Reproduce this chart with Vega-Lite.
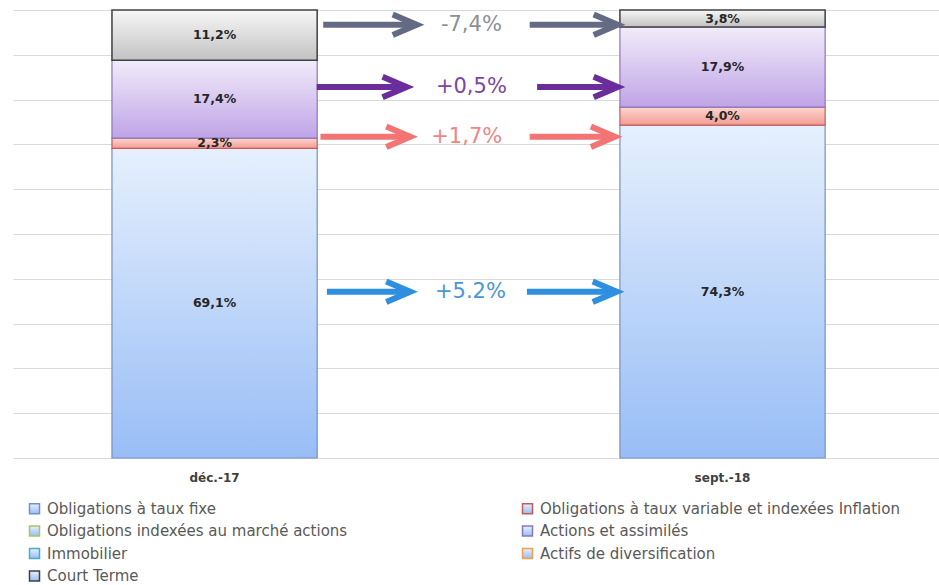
{
  "$schema": "https://vega.github.io/schema/vega-lite/v6.json",
  "width": 926,
  "height": 448,
  "autosize": {"type": "none"},
  "padding": {"left": 13, "top": 10, "right": 0, "bottom": 127},
  "background": "white",
  "config": {"view": {"stroke": null}, "font": "DejaVu Sans"},
  "datasets": {
    "alloc": [
      {"period": "déc.-17", "series": "Obligations à taux fixe", "pct": 69.1, "label": "69,1%"},
      {"period": "déc.-17", "series": "Obligations à taux variable et indexées Inflation", "pct": 2.3, "label": "2,3%"},
      {"period": "déc.-17", "series": "Actions et assimilés", "pct": 17.4, "label": "17,4%"},
      {"period": "déc.-17", "series": "Court Terme", "pct": 11.2, "label": "11,2%"},
      {"period": "sept.-18", "series": "Obligations à taux fixe", "pct": 74.3, "label": "74,3%"},
      {"period": "sept.-18", "series": "Obligations à taux variable et indexées Inflation", "pct": 4.0, "label": "4,0%"},
      {"period": "sept.-18", "series": "Actions et assimilés", "pct": 17.9, "label": "17,9%"},
      {"period": "sept.-18", "series": "Court Terme", "pct": 3.8, "label": "3,8%"}
    ],
    "arrows": [
      {"series": "Court Terme", "from": 33.5, "to": 43.6, "level": 96.7},
      {"series": "Court Terme", "from": 55.8, "to": 65.3, "level": 96.7},
      {"series": "Actions et assimilés", "from": 32.8, "to": 42.5, "level": 82.8},
      {"series": "Actions et assimilés", "from": 56.6, "to": 65.3, "level": 82.8},
      {"series": "Obligations à taux variable et indexées Inflation", "from": 33.2, "to": 42.9, "level": 71.7},
      {"series": "Obligations à taux variable et indexées Inflation", "from": 55.8, "to": 65.0, "level": 71.7},
      {"series": "Obligations à taux fixe", "from": 33.9, "to": 42.9, "level": 37.1},
      {"series": "Obligations à taux fixe", "from": 55.5, "to": 65.2, "level": 37.1}
    ],
    "changes": [
      {"series": "Court Terme", "text": "-7,4%", "at": 49.5, "level": 96.7},
      {"series": "Actions et assimilés", "text": "+0,5%", "at": 49.5, "level": 82.8},
      {"series": "Obligations à taux variable et indexées Inflation", "text": "+1,7%", "at": 49.0, "level": 71.7},
      {"series": "Obligations à taux fixe", "text": "+5.2%", "at": 49.4, "level": 37.1}
    ]
  },
  "layer": [
    {
      "data": {"name": "alloc"},
      "transform": [{"stack": "pct", "groupby": ["period"], "as": ["y0", "y1"]}],
      "layer": [
        {
          "transform": [{"filter": {"field": "series", "equal": "Obligations à taux fixe"}}],
          "mark": {"type": "bar", "strokeWidth": 1.2, "fill": {"gradient": "linear", "x1": 0, "y1": 0, "x2": 0, "y2": 1, "stops": [{"offset": 0, "color": "#e6f0fd"}, {"offset": 1, "color": "#98bdf6"}]}},
          "encoding": {
            "x": {"field": "period", "type": "nominal", "sort": ["déc.-17", "sept.-18"], "scale": {"paddingInner": 0.596, "paddingOuter": 0.2095, "align": 0.465}, "axis": {"title": null, "labelAngle": 0, "labelFont": "DejaVu Sans", "labelFontSize": 12, "labelFontWeight": "bold", "labelColor": "#404040", "ticks": false, "domain": false, "grid": false, "labelPadding": 14}},
            "y": {"field": "y0", "type": "quantitative", "scale": {"domain": [0, 100], "nice": false}, "axis": {"title": null, "labels": false, "ticks": false, "domain": false, "grid": true, "gridColor": "#d9d9d9", "values": [0, 10, 20, 30, 40, 50, 60, 70, 80, 90, 100]}},
            "y2": {"field": "y1"},
            "stroke": {
              "field": "series", "type": "nominal",
              "scale": {
                "domain": ["Obligations à taux fixe", "Obligations à taux variable et indexées Inflation", "Obligations indexées au marché actions", "Actions et assimilés", "Immobilier", "Actifs de diversification", "Court Terme"],
                "range": ["#7590c4", "#c85a5a", "#a9c461", "#8a76c0", "#4bacc6", "#f0a050", "#404040"]
              },
              "legend": {
                "title": null, "orient": "none", "legendX": 14, "legendY": 491, "columns": 2, "direction": "horizontal",
                "symbolType": "square", "symbolSize": 100, "symbolStrokeWidth": 1.5,
                "labelFont": "DejaVu Sans", "labelFontSize": 15, "labelColor": "#595959", "labelOffset": 5, "labelLimit": 600,
                "rowPadding": 5.5, "columnPadding": 171,
                "encode": {"symbols": {"update": {"fill": {"scale": "stroke", "field": "value"}, "fillOpacity": {"value": 0.3}, "stroke": {"scale": "stroke", "field": "value"}}}}
              }
            }
          }
        },
        {
          "transform": [{"filter": {"field": "series", "equal": "Obligations à taux variable et indexées Inflation"}}],
          "mark": {"type": "bar", "strokeWidth": 1.2, "fill": {"gradient": "linear", "x1": 0, "y1": 0, "x2": 0, "y2": 1, "stops": [{"offset": 0, "color": "#fcd6d0"}, {"offset": 1, "color": "#f29c92"}]}},
          "encoding": {
            "x": {"field": "period", "type": "nominal", "sort": ["déc.-17", "sept.-18"]},
            "y": {"field": "y0", "type": "quantitative"},
            "y2": {"field": "y1"},
            "stroke": {"field": "series", "type": "nominal"}
          }
        },
        {
          "transform": [{"filter": {"field": "series", "equal": "Actions et assimilés"}}],
          "mark": {"type": "bar", "strokeWidth": 1.2, "fill": {"gradient": "linear", "x1": 0, "y1": 0, "x2": 0, "y2": 1, "stops": [{"offset": 0, "color": "#f2ecfa"}, {"offset": 1, "color": "#bfa4e6"}]}},
          "encoding": {
            "x": {"field": "period", "type": "nominal", "sort": ["déc.-17", "sept.-18"]},
            "y": {"field": "y0", "type": "quantitative"},
            "y2": {"field": "y1"},
            "stroke": {"field": "series", "type": "nominal"}
          }
        },
        {
          "transform": [{"filter": {"field": "series", "equal": "Court Terme"}}],
          "mark": {"type": "bar", "strokeWidth": 1.5, "fill": {"gradient": "linear", "x1": 0, "y1": 0, "x2": 0, "y2": 1, "stops": [{"offset": 0, "color": "#f7f7f7"}, {"offset": 1, "color": "#c2c2c2"}]}},
          "encoding": {
            "x": {"field": "period", "type": "nominal", "sort": ["déc.-17", "sept.-18"]},
            "y": {"field": "y0", "type": "quantitative"},
            "y2": {"field": "y1"},
            "stroke": {"field": "series", "type": "nominal"}
          }
        },
        {
          "transform": [
            {"fold": ["y0", "y1"], "as": ["edge", "pos"]},
            {"aggregate": [{"op": "mean", "field": "pos", "as": "mid"}], "groupby": ["period", "series", "label"]}
          ],
          "mark": {"type": "text", "font": "DejaVu Sans", "fontSize": 12.5, "fontWeight": "bold", "color": "#262626"},
          "encoding": {
            "x": {"field": "period", "type": "nominal", "sort": ["déc.-17", "sept.-18"]},
            "y": {"field": "mid", "type": "quantitative"},
            "text": {"field": "label"}
          }
        }
      ]
    },
    {
      "layer": [
        {
          "data": {"name": "arrows"},
          "mark": {"type": "rule", "strokeWidth": 6},
          "encoding": {
            "x": {"field": "from", "type": "quantitative", "scale": {"domain": [0, 100], "nice": false}, "axis": null},
            "x2": {"field": "to"},
            "y": {"field": "level", "type": "quantitative"},
            "color": {"field": "series", "type": "nominal", "scale": {"domain": ["Court Terme", "Actions et assimilés", "Obligations à taux variable et indexées Inflation", "Obligations à taux fixe"], "range": ["#636b84", "#6b2c9c", "#f27474", "#2e8fe0"]}, "legend": null}
          }
        },
        {
          "data": {"name": "arrows"},
          "mark": {"type": "point", "shape": "M-2,-0.85L0,0L-2,0.85", "filled": false, "size": 576, "strokeWidth": 6, "opacity": 1, "strokeJoin": "miter"},
          "encoding": {
            "x": {"field": "to", "type": "quantitative"},
            "y": {"field": "level", "type": "quantitative"},
            "color": {"field": "series", "type": "nominal", "legend": null}
          }
        },
        {
          "data": {"name": "changes"},
          "mark": {"type": "text", "font": "DejaVu Sans", "fontSize": 21},
          "encoding": {
            "x": {"field": "at", "type": "quantitative"},
            "y": {"field": "level", "type": "quantitative"},
            "text": {"field": "text"},
            "fill": {"field": "series", "type": "nominal", "scale": {"domain": ["Court Terme", "Actions et assimilés", "Obligations à taux variable et indexées Inflation", "Obligations à taux fixe"], "range": ["#8c8f98", "#7a45a4", "#f08585", "#4a96d6"]}, "legend": null}
          }
        }
      ]
    }
  ],
  "resolve": {"scale": {"x": "independent"}, "axis": {"x": "independent"}}
}
